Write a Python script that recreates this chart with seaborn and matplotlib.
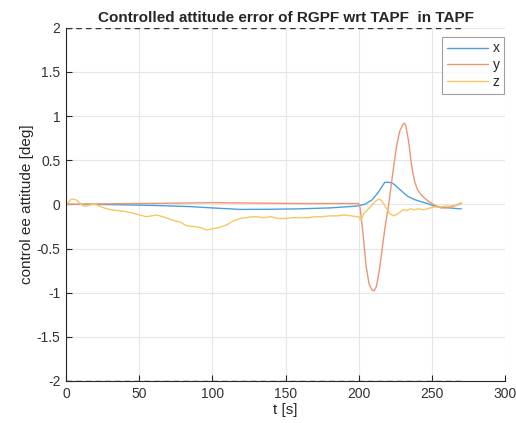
import numpy as np
import pandas as pd
import seaborn as sns
import matplotlib
matplotlib.use("Agg")
import matplotlib.pyplot as plt

# values
t_x = [0, 10, 20, 40, 60, 85, 100, 119, 140, 160, 180, 198, 204, 209, 213, 217.8, 221,
       224, 226.6, 230, 233.5, 238, 242.6, 247, 251.7, 256, 262, 268.8, 270]
v_x = [0, 0, 0, -0.005, -0.012, -0.025, -0.04, -0.057, -0.055, -0.05, -0.04, -0.02, 0.0,
       0.05, 0.13, 0.25, 0.25, 0.23, 0.19, 0.14, 0.09, 0.055, 0.03, 0.01, -0.02, -0.03,
       -0.04, -0.05, -0.05]

t_y = [0, 20, 50, 80, 100, 130, 160, 190, 200, 201, 203, 205, 207, 209, 210.5, 212, 214,
       216, 218, 220, 222, 224, 226, 228, 230, 231, 232, 234, 236, 238, 240, 242, 245,
       248, 252, 256, 260, 265, 270]
v_y = [0, 0.005, 0.01, 0.015, 0.02, 0.015, 0.01, 0.01, 0.01, -0.05, -0.35, -0.7, -0.9,
       -0.97, -0.98, -0.93, -0.75, -0.5, -0.25, -0.05, 0.2, 0.45, 0.68, 0.83, 0.9, 0.92,
       0.9, 0.72, 0.45, 0.27, 0.17, 0.12, 0.07, 0.03, -0.01, -0.04, -0.04, -0.02, 0.01]

t_z = [0, 2, 3.5, 5, 7, 9, 12, 14, 16, 18, 20, 23, 26, 30, 35, 40, 46, 50, 55, 58, 62,
       66, 70, 73, 78, 82, 86, 91.5, 93, 96, 99, 102, 105, 110, 114, 119, 123, 127, 130,
       135, 140, 145, 150, 155, 160, 165, 170, 175, 180, 185, 190, 195, 198.6, 200, 201.5,
       203.3, 206, 209, 211, 213.4, 215, 216.9, 219, 221.5, 224.2, 227, 230.5, 233, 235,
       238, 241, 244, 247, 251, 255, 259, 262, 266, 270]
v_z = [0, 0.03, 0.06, 0.06, 0.05, 0.02, -0.02, -0.02, -0.01, 0.0, 0.0, -0.02, -0.04, -0.06,
       -0.07, -0.08, -0.1, -0.12, -0.14, -0.13, -0.12, -0.14, -0.16, -0.18, -0.2, -0.24,
       -0.25, -0.26, -0.27, -0.29, -0.28, -0.27, -0.26, -0.23, -0.19, -0.16, -0.15, -0.14,
       -0.14, -0.15, -0.14, -0.16, -0.16, -0.15, -0.15, -0.15, -0.14, -0.14, -0.13, -0.13,
       -0.12, -0.13, -0.14, -0.14, -0.18, -0.11, -0.06, -0.01, 0.03, 0.06, 0.05, 0.01,
       -0.05, -0.11, -0.13, -0.1, -0.06, -0.07, -0.05, -0.06, -0.05, -0.06, -0.05, -0.03,
       -0.03, -0.02, -0.02, -0.01, 0.02]

series_names = ["x", "y", "z"]
series_colors = ["#4d9fdb", "#ec9575", "#f5c865"]

t_limit = [0, 270]
x_ticks = [0, 50, 100, 150, 200, 250, 300]
y_ticks = [-2, -1.5, -1, -0.5, 0, 0.5, 1, 1.5, 2]


def main():
    sns.set_style("whitegrid")
    plt.rcParams["font.family"] = ["Liberation Sans", "DejaVu Sans"]

    fig = plt.figure(figsize=(5.16, 4.23), dpi=100)
    ax = fig.add_axes([0.128, 0.0993, 0.851, 0.835])

    data = [(t_x, v_x), (t_y, v_y), (t_z, v_z)]
    for (tt, vv), name, col in zip(data, series_names, series_colors):
        df = pd.DataFrame({"t": tt, "v": vv})
        sns.lineplot(data=df, x="t", y="v", ax=ax, color=col, lw=1.0, label=name,
                     estimator=None, sort=False)

    # saturation limits
    for lim in (2, -2):
        ax.plot(t_limit, [lim, lim], color="#333333", ls=(0, (4, 3)), lw=1.0)

    ax.set_xlim(0, 300)
    ax.set_ylim(-2, 2)
    ax.set_xticks(x_ticks)
    ax.set_yticks(y_ticks)
    ax.set_yticklabels([f"{v:g}" for v in y_ticks])
    ax.grid(True, color="#e6e6e6", lw=0.8)
    for s in ("top", "right"):
        ax.spines[s].set_visible(False)
    for s in ("left", "bottom"):
        ax.spines[s].set_color("#262626")
        ax.spines[s].set_linewidth(0.8)
    ax.tick_params(bottom=True, left=True, direction="in", length=4, width=0.8,
                   color="#262626", labelcolor="#333333", labelsize=10, pad=4)

    ax.set_xlabel("t [s]", fontsize=11, color="#262626", labelpad=2)
    ax.set_ylabel("control ee attitude [deg]", fontsize=11, color="#262626", labelpad=2)
    ax.set_title("Controlled attitude error of RGPF wrt TAPF  in TAPF",
                 fontsize=11, fontweight="bold", pad=4)

    leg = ax.legend(loc="upper right", bbox_to_anchor=(0.998, 0.975), fontsize=10,
                    frameon=True, fancybox=False, handlelength=3.0, borderpad=0.35,
                    labelspacing=0.2, handletextpad=0.3, borderaxespad=0.0)
    leg.get_frame().set_edgecolor("#888888")
    leg.get_frame().set_linewidth(0.8)

    fig.savefig("out.png", dpi=100)


if __name__ == "__main__":
    main()
